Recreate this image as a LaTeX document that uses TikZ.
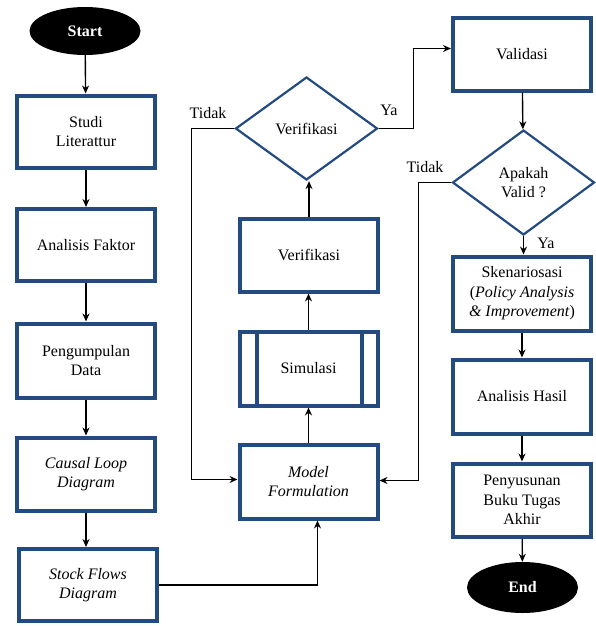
\documentclass[tikz,border=0pt]{standalone}
\usepackage{fontspec}
\setmainfont{Liberation Serif}
\usepackage{tikz}
\usetikzlibrary{arrows.meta}
\usetikzlibrary{positioning,shapes.geometric,calc}
\definecolor{birutua}{RGB}{35,75,128}

\begin{document}
\begin{tikzpicture}[x=1pt,y=-1pt,
	kotak/.style={rectangle,draw=birutua,line width=4pt,align=center,
		minimum width=138pt,minimum height=72pt,inner sep=2pt},
	belah/.style={diamond,draw=birutua,line width=2.2pt,align=center,
		minimum width=142pt,minimum height=103pt,inner sep=0pt},
	ujung/.style={ellipse,fill=black,text=white,font=\fontsize{16}{19}\selectfont\bfseries,
		minimum width=111pt,minimum height=48pt},
	teks/.style={font=\fontsize{16}{19}\selectfont},
	every node/.append style={font=\fontsize{16}{19.5}\selectfont}]
	\useasboundingbox (0,0) rectangle (595,626);

	\node[ujung] (start) at (85,31) {Start};
	\node[kotak] (studi) at (86,131.5) {Studi\\Literattur};
	\node[kotak] (faktor) at (86,245) {Analisis Faktor};
	\node[kotak,minimum height=74pt] (data) at (86,360.5) {Pengumpulan\\Data};
	\node[kotak,minimum height=73pt] (cld) at (86,474) {\textit{Causal Loop}\\\textit{Diagram}};
	\node[kotak] (sfd) at (88,585) {\textit{Stock Flows}\\\textit{Diagram}};

	\node[kotak,minimum height=74pt] (model) at (308.5,481.5) {\textit{Model}\\\textit{Formulation}};
	\node[kotak,minimum height=74pt] (simulasi) at (308.5,368.5) {Simulasi};
	\node[kotak,minimum height=73pt] (verbox) at (309,255) {Verifikasi};
	\node[belah] (verdia) at (306.5,128.5) {Verifikasi};

	\node[kotak] (validasi) at (522,54.5) {Validasi};
	\node[belah,minimum height=105pt] (validdia) at (523.5,182.5) {Apakah\\Valid ?};
	\node[kotak,minimum height=74pt] (skenario) at (522,293.5)
		{Skenariosasi\\(\textit{Policy Analysis}\\\textit{\& Improvement})};
	\node[kotak,minimum height=74pt] (hasil) at (522,396.5) {Analisis Hasil};
	\node[kotak,minimum height=73pt] (susun) at (522,500) {Penyusunan\\Buku Tugas\\Akhir};
	\node[ujung,minimum height=51pt] (end) at (522.5,587.5) {End};

	\draw[draw=birutua,line width=4pt] ([xshift=19pt]simulasi.north west) -- ([xshift=19pt]simulasi.south west);
	\draw[draw=birutua,line width=4pt] ([xshift=-18pt]simulasi.north east) -- ([xshift=-18pt]simulasi.south east);

	\node[teks] (tidak1) at (208,113) {Tidak};
	\node[teks] (ya1) at (389,110) {Ya};
	\node[teks] (tidak2) at (425,167) {Tidak};
	\node[teks] (ya2) at (546,243) {Ya};

	\begin{scope}[>={Stealth[length=8pt,width=7pt]},line width=1.4pt]
		\draw[->] (start) -- (studi);
		\draw[->] (studi) -- (faktor);
		\draw[->] (faktor) -- (data);
		\draw[->] (data) -- (cld);
		\draw[->] (cld.south) -- (cld.south |- sfd.north);
		\draw[->] (sfd.east) -| ([xshift=9pt]model.south);
		\draw[->] (model.north) -- (model.north |- simulasi.south);
		\draw[->] (simulasi.north) -- (simulasi.north |- verbox.south);
		\draw[->] (verbox.north) -- (verbox.north |- verdia.south);
		\draw[->] (verdia.west) -- ++(-43,0) |- ([yshift=2pt]model.west);
		\draw[->] (verdia.east) -- ++(35,0) |- ([yshift=6pt]validasi.west);
		\draw[->] (validasi) -- (validdia);
		\draw[->] (validdia.west) -- ++(-33,0) |- ([yshift=1pt]model.east);
		\draw[->] (validdia.south) -- (validdia.south |- skenario.north);
		\draw[->] (skenario) -- (hasil);
		\draw[->] (hasil) -- (susun);
		\draw[->] (susun) -- (end);
	\end{scope}
\end{tikzpicture}
\end{document}
